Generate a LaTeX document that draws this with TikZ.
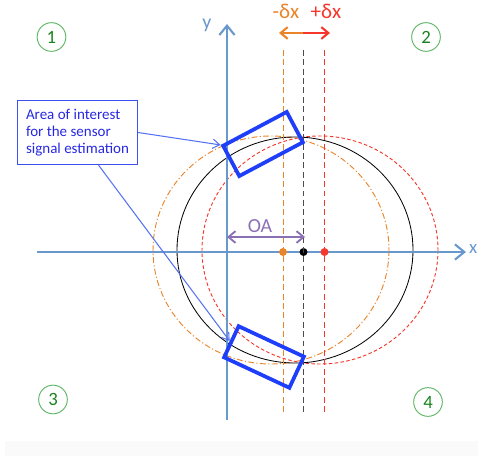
\documentclass[tikz,border=0pt]{standalone}
\usepackage{fontspec}
\setmainfont{Carlito}
\usepackage{xcolor}
\usetikzlibrary{arrows.meta, positioning, shapes.geometric, calc}

\definecolor{axisblue}{RGB}{104,152,204}
\definecolor{zoneblue}{RGB}{30,62,250}
\definecolor{noteblue}{RGB}{60,80,240}
\definecolor{notetext}{RGB}{40,40,225}
\definecolor{pointblue}{RGB}{85,115,240}
\definecolor{shiftorange}{RGB}{234,132,42}
\definecolor{shiftred}{RGB}{245,55,45}
\definecolor{oapurple}{RGB}{140,112,182}
\definecolor{ringgreen}{RGB}{95,182,100}
\definecolor{numgreen}{RGB}{25,130,30}

\begin{document}
\begin{tikzpicture}[
        x=0.03cm,
        y=-0.03cm,
        axis/.style={line width=2.3pt,axisblue,-{Straight Barb[length=8pt,width=13pt,line width=1.8pt]}},
        quad/.style={circle,draw=ringgreen,line width=0.8pt,text=numgreen,minimum size=0.86cm,inner sep=0pt,font=\fontsize{16}{18}\selectfont},
        zone/.style={draw=zoneblue,line width=3.2pt,minimum width=2.16cm,minimum height=1.03cm,inner sep=0pt},
        note/.style={draw=noteblue,line width=1pt,text=notetext,align=left,minimum width=3.6cm,minimum height=1.92cm,font=\fontsize{12.8}{14.8}\selectfont},
        pointer/.style={pointblue,line width=0.9pt,-{Straight Barb[length=6pt,width=8pt]}},
        spot/.style={circle,inner sep=0pt,minimum size=0.24cm},
        deltaarrow/.style={line width=2.4pt,-{Straight Barb[length=6pt,width=10pt,line width=1.8pt]}}
    ]
        \useasboundingbox (0,0) rectangle (478,456);
        \fill[black!2] (5,441) rectangle (478,456);

        % offset circles
        \draw[shiftorange,line width=0.8pt,dash pattern=on 5pt off 2pt on 1pt off 2pt]
            (271,250) ellipse [x radius=118,y radius=114];
        \draw[shiftred,line width=0.8pt,dash pattern=on 3pt off 2pt]
            (320,250) ellipse [x radius=118,y radius=114];
        \draw[black,line width=0.7pt] (295,250) ellipse [x radius=118,y radius=113];

        % axes
        \coordinate (xfrom) at (37,252);
        \coordinate (xto) at (466,252);
        \coordinate (yfrom) at (227,420);
        \coordinate (yto) at (227,24);
        \draw[axis] (xfrom) -- (xto);
        \draw[axis] (yfrom) -- (yto);
        \node[axisblue,anchor=east,inner sep=0.5pt,font=\fontsize{16}{18}\selectfont] (xlab) at (478,249) {x};
        \node[axisblue,font=\fontsize{17}{19}\selectfont] (ylab) at (207,25) {y};

        % centres
        \node[spot,fill=shiftorange] (pminus) at (283,252) {};
        \node[spot,fill=black] (pzero) at (303.5,252) {};
        \node[spot,fill=shiftred] (pplus) at (324.5,252) {};
        \draw[shiftorange,line width=0.7pt,dash pattern=on 5pt off 3pt] (pminus |- 0,50) -- (pminus |- 0,413);
        \draw[shiftred,line width=0.7pt,dash pattern=on 5pt off 3pt] (pplus |- 0,50) -- (pplus |- 0,413);
        \draw[black!70,line width=1.5pt,dash pattern=on 5pt off 3pt] (pzero |- 0,50) -- (pzero |- 0,413);

        % shift arrows
        \coordinate (mid) at (303,33);
        \coordinate (lefttip) at (279,33);
        \coordinate (righttip) at (330,33);
        \draw[deltaarrow,shiftorange] (mid) -- (lefttip);
        \draw[deltaarrow,shiftred] (mid) -- (righttip);
        \node[shiftorange,font=\fontsize{18}{20}\selectfont] (dminus) at (286,11) {-δx};
        \node[shiftred,font=\fontsize{18}{20}\selectfont] (dplus) at (326,11) {+δx};

        % OA
        \coordinate (oafrom) at (227,237);
        \coordinate (oato) at (305,237);
        \draw[oapurple,line width=1.6pt,{Straight Barb[length=6pt,width=10pt]}-{Straight Barb[length=6pt,width=10pt]}]
            (oafrom) -- (oato);
        \node[oapurple,font=\fontsize{17}{19}\selectfont] (oa) at (260,226) {OA};

        % zones of interest
        \node[zone,rotate=28] (top) at (263,144) {};
        \node[zone,rotate=-25] (bot) at (264,357) {};

        \node[note] (info) at (77.5,132.5) {Area of interest\\for the sensor\\signal estimation};
        \draw[pointer] (info.east) -- (top.north west);
        \draw[pointer] ([xshift=0.63cm]info.south) -- (bot.west);

        % quadrants
        \node[quad] (q1) at (51.5,37) {1};
        \node[quad] (q2) at (426,37) {2};
        \node[quad] (q3) at (53,399.5) {3};
        \node[quad] (q4) at (428,402) {4};
    \end{tikzpicture}
\end{document}
